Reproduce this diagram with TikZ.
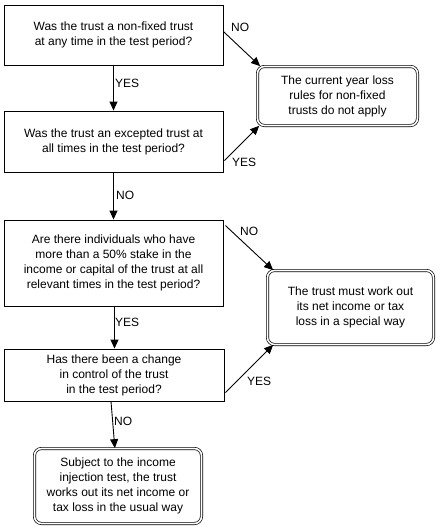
\documentclass[tikz,border=0pt]{standalone}
\usepackage{fontspec}
\setmainfont{Liberation Sans}
\usetikzlibrary{arrows.meta,calc}
\begin{document}
\begin{tikzpicture}[x=1pt,y=-1pt,
  every node/.style={font=\fontsize{12}{15}\selectfont},
  qbox/.style={draw,line width=0.9pt,rectangle,align=center,inner sep=0pt},
  rbox/.style={draw,double,double distance=1.6pt,line width=0.7pt,rounded corners=7pt,align=center,inner sep=0pt},
  arr/.style={line width=0.9pt,-{Triangle[length=9pt,width=8pt]}},
  lab/.style={inner sep=0pt,anchor=west}]
\useasboundingbox (0,0) rectangle (444,531);
\node[qbox,minimum width=219pt,minimum height=60pt] (b1) at (113.5,35) {Was the trust a non-fixed trust\\at any time in the test period?};
\node[qbox,minimum width=219pt,minimum height=61pt] (b2) at (113.5,141.5) {Was the trust an excepted trust at\\all times in the test period?};
\node[qbox,minimum width=219pt,minimum height=86pt] (b3) at (113.5,263) {Are there individuals who have\\more than a 50\% stake in the\\income or capital of the trust at all\\relevant times in the test period?};
\node[qbox,minimum width=220pt,minimum height=52pt] (b4) at (114,375) {Has there been a change\\in control of the trust\\in the test period?};
\node[rbox,minimum width=167pt,minimum height=75pt] (b5) at (118,486) {Subject to the income\\injection test, the trust\\works out its net income or\\tax loss in the usual way};
\node[rbox,minimum width=160pt,minimum height=59pt] (r1) at (337.5,96) {The current year loss\\rules for non-fixed\\trusts do not apply};
\node[rbox,minimum width=166pt,minimum height=74pt] (r2) at (350.5,307.5) {The trust must work out\\its net income or tax\\loss in a special way};
\draw[arr] (b1) -- (b2);
\draw[arr] (b2) -- (b3);
\draw[arr] ($(b3.south)+(1,0)$) -- ($(b4.north)+(0.5,0)$);
\draw[arr] ($(b4.south)+(-3,0)$) -- (b5);
\draw[arr] ($(b1.north east)+(0,27)$) -- ($(r1.north west)+(3,0)$);
\draw[arr] ($(b2.south east)+(1,-12)$) -- ($(r1.south west)+(2,0)$);
\draw[arr] ($(b3.north east)+(2,6)$) -- ($(r2.north west)+(6,0)$);
\draw[arr] ($(b4.south east)+(1,-9)$) -- ($(r2.south west)+(6,0)$);
\node[lab] (l1) at (231,27) {NO};
\node[lab] (l2) at (115,83) {YES};
\node[lab] (l3) at (232,162) {YES};
\node[lab] (l4) at (116,195) {NO};
\node[lab] (l5) at (240,231) {NO};
\node[lab] (l6) at (115,322) {YES};
\node[lab] (l7) at (247,381) {YES};
\node[lab] (l8) at (114,421) {NO};
\end{tikzpicture}
\end{document}
